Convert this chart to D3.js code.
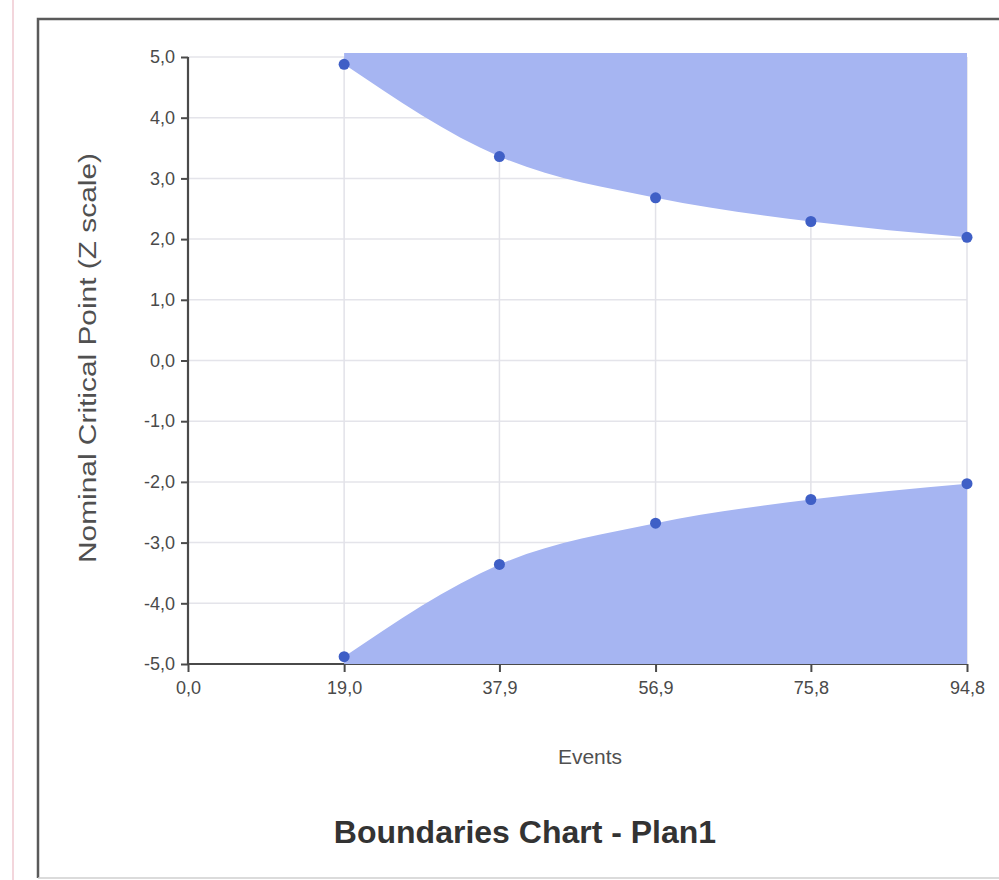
<!DOCTYPE html>
<html>
<head>
<meta charset="utf-8">
<script src="https://cdn.jsdelivr.net/npm/d3@7"></script>
<style>
  html, body { margin: 0; padding: 0; background: #ffffff; }
  svg { display: block; }
</style>
</head>
<body>
<svg id="chart" width="999" height="880"></svg>
<script>
// Group-sequential stopping boundaries (Z scale) at each interim look
const events = [19.0, 37.9, 56.9, 75.8, 94.8];
const upperBound = [4.88, 3.36, 2.68, 2.29, 2.03];
const lowerBound = [-4.88, -3.36, -2.68, -2.29, -2.03];
const xTickValues = [0.0, 19.0, 37.9, 56.9, 75.8, 94.8];
const yTickValues = [5, 4, 3, 2, 1, 0, -1, -2, -3, -4, -5];

const titleText = "Boundaries Chart - Plan1";
const xTitle = "Events";
const yTitle = "Nominal Critical Point (Z scale)";

const svg = d3.select("#chart");
const W = 999, H = 880;

const plot = { left: 188, right: 967, top: 57, bottom: 664 };

const x = d3.scaleLinear().domain([0, 94.8]).range([plot.left, plot.right]);
const y = d3.scaleLinear().domain([-5, 5]).range([plot.bottom, plot.top]);

// Decimal comma formatting with a plain hyphen for negatives
const locale = d3.formatLocale({ decimal: ",", thousands: ".", grouping: [3], currency: ["", ""], minus: "-" });
const fmt = locale.format(".1f");

// Outer frame
svg.append("line")
  .attr("x1", 13).attr("x2", 13).attr("y1", 0).attr("y2", H)
  .attr("stroke", "#f3d6dc").attr("stroke-width", 2);
svg.append("path")
  .attr("d", `M1010,19H38V878`)
  .attr("fill", "none").attr("stroke", "#5a5a5a").attr("stroke-width", 2.5);
svg.append("line")
  .attr("x1", 38).attr("x2", W).attr("y1", 878).attr("y2", 878)
  .attr("stroke", "#cfcfcf").attr("stroke-width", 1.5);

// Gridlines
const grid = svg.append("g");
grid.selectAll("line.h").data(yTickValues).join("line")
  .attr("class", "h")
  .attr("x1", plot.left).attr("x2", plot.right)
  .attr("y1", d => y(d)).attr("y2", d => y(d))
  .attr("stroke", "#e4e4ea").attr("stroke-width", 1.5);
grid.selectAll("line.v").data(xTickValues.slice(1)).join("line")
  .attr("class", "v")
  .attr("x1", d => x(d)).attr("x2", d => x(d))
  .attr("y1", plot.top).attr("y2", plot.bottom)
  .attr("stroke", "#e2e2e8").attr("stroke-width", 1.5);

// Axes
const yAxis = d3.axisLeft(y).tickValues(yTickValues).tickFormat(fmt).tickSize(7).tickPadding(6);
const xAxis = d3.axisBottom(x).tickValues(xTickValues).tickFormat(fmt).tickSize(8).tickPadding(9);

const gy = svg.append("g").attr("transform", `translate(${plot.left},0)`).call(yAxis);
const gx = svg.append("g").attr("transform", `translate(0,${plot.bottom})`).call(xAxis);

[gx, gy].forEach(g => {
  g.select(".domain").attr("stroke", "#4a4a4a").attr("stroke-width", 2.2);
  g.selectAll(".tick line").attr("stroke", "#4a4a4a").attr("stroke-width", 2);
  g.selectAll(".tick text")
    .attr("fill", "#4a4a4a")
    .style("font-family", "'Liberation Sans', Arial, sans-serif")
    .style("font-size", "18px");
});
gy.select(".domain").attr("d", `M0,${plot.top}V${plot.bottom}`);
gx.select(".domain").attr("d", `M${plot.left},0H${plot.right}`);

// Rejection regions above the upper boundary and below the lower boundary
const pts = events.map((e, i) => ({ e, up: upperBound[i], lo: lowerBound[i] }));
const fillColor = "#a6b5f2";
const ceiling = y(5) - 4;

const upperArea = d3.area()
  .x(d => x(d.e))
  .y0(ceiling)
  .y1(d => y(d.up))
  .curve(d3.curveMonotoneX);
const lowerArea = d3.area()
  .x(d => x(d.e))
  .y0(y(-5))
  .y1(d => y(d.lo))
  .curve(d3.curveMonotoneX);

svg.append("path").datum(pts).attr("d", upperArea).attr("fill", fillColor);
svg.append("path").datum(pts).attr("d", lowerArea).attr("fill", fillColor);

// Boundary points
const dotColor = "#3f5fc6";
svg.append("g").selectAll("circle.up").data(pts).join("circle")
  .attr("cx", d => x(d.e)).attr("cy", d => y(d.up)).attr("r", 5.5)
  .attr("fill", dotColor);
svg.append("g").selectAll("circle.lo").data(pts).join("circle")
  .attr("cx", d => x(d.e)).attr("cy", d => y(d.lo)).attr("r", 5.5)
  .attr("fill", dotColor);

// Titles
svg.append("text")
  .attr("x", 590).attr("y", 764)
  .attr("text-anchor", "middle")
  .attr("fill", "#505050")
  .style("font-family", "'Liberation Sans', Arial, sans-serif")
  .style("font-size", "21px")
  .text(xTitle);

svg.append("text")
  .attr("transform", `translate(96,358) rotate(-90)`)
  .attr("text-anchor", "middle")
  .attr("fill", "#505050")
  .attr("textLength", 410)
  .attr("lengthAdjust", "spacingAndGlyphs")
  .style("font-family", "'Liberation Sans', Arial, sans-serif")
  .style("font-size", "23px")
  .text(yTitle);

svg.append("text")
  .attr("x", 525).attr("y", 843)
  .attr("text-anchor", "middle")
  .attr("fill", "#333333")
  .style("font-family", "'Liberation Sans Narrow', 'Arial Narrow', 'Liberation Sans', sans-serif")
  .style("font-weight", "bold")
  .style("font-size", "32px")
  .text(titleText);
</script>
</body>
</html>
